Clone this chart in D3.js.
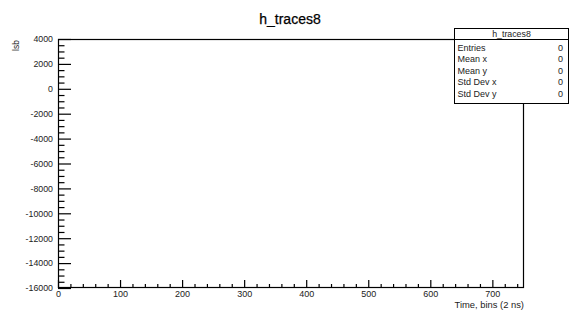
<!DOCTYPE html>
<html>
<head>
<meta charset="utf-8">
<script src="https://cdn.jsdelivr.net/npm/d3@7"></script>
<style>
  html, body { margin: 0; padding: 0; background: #fff; }
  svg { display: block; font-family: "Liberation Sans", Arial, Helvetica, sans-serif; }
</style>
</head>
<body>
<svg id="chart" width="569" height="312"></svg>
<script>
// ---- data ----
const histTitle = "h_traces8";
const xTitle = "Time, bins (2 ns)";
const yTitle = "lsb";
const xDomain = [0, 751];
const yDomain = [-16000, 4000];
const xTickValues = [0, 100, 200, 300, 400, 500, 600, 700];
const yTickValues = [4000, 2000, 0, -2000, -4000, -6000, -8000, -10000, -12000, -14000, -16000];
const binValues = [];            // empty histogram (0 entries)
const statLabels = ["Entries", "Mean x", "Mean y", "Std Dev x", "Std Dev y"];
const statValues = [0, 0, 0, 0, 0];

// ---- layout ----
const svg = d3.select("#chart");
const L = 58, R = 524, T = 39, B = 288;
const x = d3.scaleLinear().domain(xDomain).range([L, R]);
const y = d3.scaleLinear().domain(yDomain).range([B, T]);
const fmt = d => String(d);   // plain hyphen-minus like ROOT

const xMinor = d3.range(0, xDomain[1] + 0.001, 20).filter(v => v % 100 !== 0);
const yMinor = d3.range(yDomain[0], yDomain[1] + 0.001, 500).filter(v => v % 2000 !== 0);

// title
svg.append("text")
  .attr("x", 290).attr("y", 23.5)
  .attr("text-anchor", "middle")
  .attr("font-size", 14)
  .attr("fill", "#000")
  .attr("stroke", "#000").attr("stroke-width", 0.25)
  .text(histTitle);

// frame
svg.append("rect")
  .attr("x", L + 0.5).attr("y", T + 0.5)
  .attr("width", R - L - 1).attr("height", B - T - 1)
  .attr("fill", "none").attr("stroke", "#000").attr("stroke-width", 1.2);

// histogram bins (none)
svg.append("g").selectAll("rect").data(binValues).join("rect")
  .attr("x", (d, i) => x(i)).attr("width", x(1) - x(0))
  .attr("y", d => y(Math.max(d, 0))).attr("height", d => Math.abs(y(d) - y(0)))
  .attr("fill", "none").attr("stroke", "#000");

// x axis
const gx = svg.append("g").attr("transform", `translate(0,${B})`);
gx.call(d3.axisBottom(x).tickValues(xTickValues).tickSizeInner(-8).tickSizeOuter(0).tickPadding(2.5).tickFormat(fmt));
gx.select(".domain").remove();
gx.selectAll("text").attr("font-size", 9).attr("font-family", "Liberation Sans, Arial, sans-serif").attr("fill", "#222");
gx.selectAll("line").attr("stroke", "#000").attr("stroke-width", 1.2);
const gxm = svg.append("g").attr("transform", `translate(0,${B})`);
gxm.call(d3.axisBottom(x).tickValues(xMinor).tickSizeInner(-4).tickSizeOuter(0).tickFormat(""));
gxm.select(".domain").remove();
gxm.selectAll("line").attr("stroke", "#000").attr("stroke-width", 1.2);

// y axis
const gy = svg.append("g").attr("transform", `translate(${L},0)`);
gy.call(d3.axisLeft(y).tickValues(yTickValues).tickSizeInner(-13).tickSizeOuter(0).tickPadding(5).tickFormat(fmt));
gy.select(".domain").remove();
gy.selectAll("text").attr("font-size", 8.8).attr("font-family", "Liberation Sans, Arial, sans-serif").attr("fill", "#222");
gy.selectAll("line").attr("stroke", "#000").attr("stroke-width", 1.2);
const gym = svg.append("g").attr("transform", `translate(${L},0)`);
gym.call(d3.axisLeft(y).tickValues(yMinor).tickSizeInner(-6.5).tickSizeOuter(0).tickFormat(""));
gym.select(".domain").remove();
gym.selectAll("line").attr("stroke", "#000").attr("stroke-width", 1.2);

// axis titles
svg.append("text")
  .attr("x", R).attr("y", 308)
  .attr("text-anchor", "end")
  .attr("font-size", 9.4).attr("fill", "#222")
  .text(xTitle);
svg.append("text")
  .attr("transform", `translate(19,${T + 1}) rotate(-90)`)
  .attr("text-anchor", "end")
  .attr("font-size", 8.5).attr("fill", "#222")
  .text(yTitle);

// stats box
const bx = 454, by = 28, bw = 114, bh = 75, headH = 11;
const box = svg.append("g");
box.append("rect")
  .attr("x", bx + 0.5).attr("y", by + 0.5).attr("width", bw).attr("height", bh)
  .attr("fill", "#fff").attr("stroke", "#000").attr("stroke-width", 1);
box.append("line")
  .attr("x1", bx).attr("x2", bx + bw + 0.5)
  .attr("y1", by + headH + 0.5).attr("y2", by + headH + 0.5)
  .attr("stroke", "#000").attr("stroke-width", 1);
box.append("text")
  .attr("x", bx + bw / 2 + 0.5).attr("y", by + 9)
  .attr("text-anchor", "middle").attr("font-size", 8.8).attr("fill", "#222")
  .text(histTitle);
const rowY = d3.scaleLinear().domain([0, statLabels.length - 1]).range([by + 22.5, by + 69]);
box.selectAll("text.lab").data(statLabels).join("text")
  .attr("class", "lab")
  .attr("x", bx + 3.5).attr("y", (d, i) => rowY(i))
  .attr("font-size", 9).attr("fill", "#222")
  .text(d => d);
box.selectAll("text.val").data(statValues).join("text")
  .attr("class", "val")
  .attr("x", bx + bw - 5).attr("y", (d, i) => rowY(i))
  .attr("text-anchor", "end")
  .attr("font-size", 9).attr("fill", "#222")
  .text(d => d);
</script>
</body>
</html>
